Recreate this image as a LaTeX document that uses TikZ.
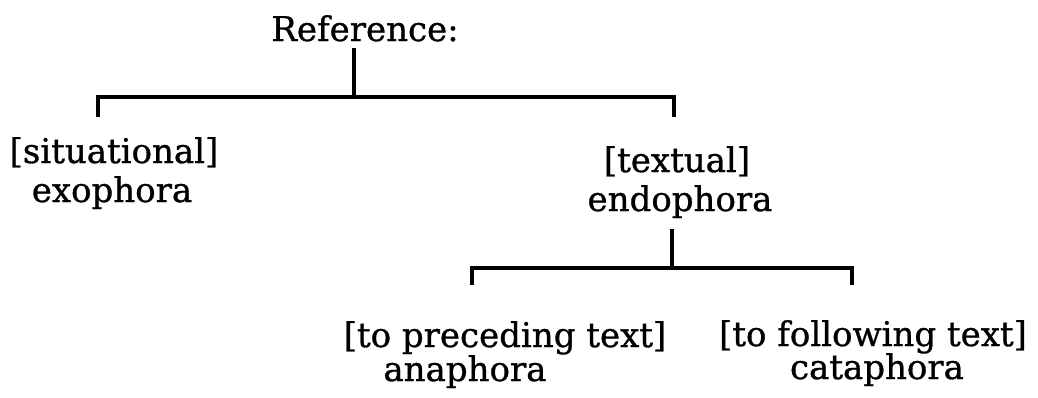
\documentclass[tikz,border=0pt]{standalone}
\usepackage{fontspec}
\newfontfamily\treefont{DejaVu Serif}[FakeBold=0.9]
\begin{document}
\begin{tikzpicture}[x=1pt,y=-1pt,
  txt/.style={anchor=base, inner sep=0pt, font=\fontsize{34}{40}\treefont},
  treeline/.style={line width=3.2pt, line join=miter}]
\useasboundingbox (0,0) rectangle (1038,397);

% labels
\node[txt] (ref)  at (365,41)  {Reference:};
\node[txt] (sit)  at (114,163) {[situational]};
\node[txt] (exo)  at (112,202) {exophora};
\node[txt] (tex)  at (677,172) {[textual]};
\node[txt] (endo) at (680,211) {endophora};
\node[txt] (pre)  at (505,347) {[to preceding text]};
\node[txt] (ana)  at (465,381) {anaphora};
\node[txt] (fol)  at (873,346) {[to following text]};
\node[txt] (cata) at (877,379) {cataphora};

% branch points
\coordinate (refstem)  at (354,48);
\coordinate (topmid)   at (354,97);
\coordinate (topl)     at (98,97);
\coordinate (topr)     at (674,97);
\coordinate (exotip)   at (98,117);
\coordinate (endotip)  at (674,117);
\coordinate (endostem) at (672,229);
\coordinate (lowmid)   at (672,268);
\coordinate (lowl)     at (472,268);
\coordinate (lowr)     at (852,268);
\coordinate (anatip)   at (472,285);
\coordinate (catatip)  at (852,285);

% first split: exophora / endophora
\draw[treeline] (refstem) -- (topmid);
\draw[treeline] (exotip) -- (topl) -- (topr) -- (endotip);

% second split: anaphora / cataphora
\draw[treeline] (endostem) -- (lowmid);
\draw[treeline] (anatip) -- (lowl) -- (lowr) -- (catatip);
\end{tikzpicture}
\end{document}
